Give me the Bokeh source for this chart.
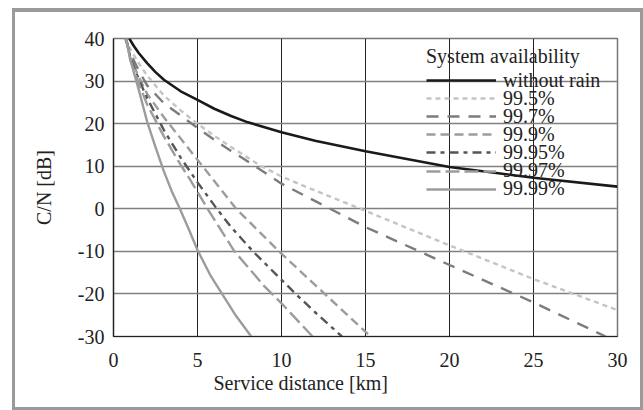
from bokeh.plotting import figure
from bokeh.models import Range1d, FixedTicker, Title, Legend, LegendItem
from bokeh.embed import file_html
from bokeh.resources import INLINE

FONT = "Tinos"      # Times-metric serif (single-word family name)
FS = "20px"

# ---- data ----
x_ticks = [0, 5, 10, 15, 20, 25, 30]
x_tick_labels = ["0", "5", "10", "15", "20", "25", "30"]
y_ticks = [-30, -20, -10, 0, 10, 20, 30, 40]
y_tick_labels = ["-30", "-20", "-10", "0", "10", "20", "30", "40"]

legend_title = "System availability"
series_names = ["without rain", "99.5%", "99.7%", "99.9%", "99.95%", "99.97%", "99.99%"]

d_norain = [0.94, 1.2, 1.5, 2, 2.5, 3, 4, 5, 6, 7, 8, 10, 12, 15, 20, 25, 30]
cn_norain = [40, 38.3, 36.6, 34.2, 32.1, 30.3, 27.6, 25.6, 23.5, 21.8, 20.3, 18.0, 16.0, 13.5, 9.8, 7.3, 5.2]

d_995 = [0.7, 1, 1.5, 2, 3, 4, 5, 6, 7, 8.8, 10, 11, 14.7, 20, 25, 30]
cn_995 = [40, 37.5, 34.2, 31.3, 26.6, 23.1, 20, 17.1, 14.5, 10, 7.6, 5.9, 0, -8.6, -16.5, -23.8]

d_997 = [0.7, 1, 1.5, 2, 3, 4, 5, 6, 7, 8.43, 10, 12.8, 15, 20, 25, 29.3]
cn_997 = [40, 36.5, 32.5, 29, 24.8, 21.9, 19, 16.2, 13.6, 10, 5.9, 0.2, -4.3, -13.2, -22, -30]

d_999 = [0.75, 1, 1.5, 2, 3, 4, 5, 6, 7.3, 9.85, 12.6, 15.3]
cn_999 = [40, 35.5, 31, 27, 21.5, 16.5, 11.5, 6.5, 0, -10, -20.1, -30]

d_9995 = [0.75, 1, 1.5, 2, 3, 4, 5, 6.15, 7, 8.3, 9.9, 10.85, 12, 13.6]
cn_9995 = [40, 35.5, 30.5, 26, 18.5, 12, 6.2, 0, -4.3, -10, -16.3, -20, -24.3, -30]

d_9997 = [0.75, 1, 1.5, 2, 3, 4, 4.55, 5.6, 7.2, 9, 10, 11.85]
cn_9997 = [40, 35, 29.5, 24.5, 17, 10.3, 6.9, 0, -10, -18.3, -22.2, -30]

d_9999 = [0.75, 1, 1.5, 2, 2.5, 3, 3.5, 3.95, 4.5, 5, 5.75, 6.5, 7.3, 8.2]
cn_9999 = [40, 35, 28, 20.5, 14.5, 8.8, 3.8, 0, -5.0, -9.7, -15.5, -20.2, -25.2, -30]

# ---- figure ----
W, H = 643, 410
p = figure(width=W, height=H, output_backend="svg", toolbar_location=None,
           x_range=Range1d(0, 30), y_range=Range1d(-30, 40),
           min_border_left=113, min_border_right=26, min_border_top=38, min_border_bottom=74)
p.border_fill_color = None
p.background_fill_color = "white"
p.outline_line_color = "#777777"
p.outline_line_width = 1.5
p.styles = {
    "background-color": "white",
    "box-shadow": "inset 12px 0 0 0 white, inset 0 8px 0 0 white, "
                  "inset 15px 0 0 0 #9a9a9a, inset 0 12px 0 0 #9a9a9a, "
                  "inset -3px 0 0 0 #9a9a9a, inset 0 -3px 0 0 #9a9a9a",
}

line_styles = [
    dict(color="#1a1a1a", width=2.6, dash="solid"),
    dict(color="#c4c4c4", width=2.4, dash="5 4"),
    dict(color="#7c7c7c", width=2.4, dash="12 9"),
    dict(color="#9c9c9c", width=2.4, dash="9 5"),
    dict(color="#555555", width=2.4, dash="9 5 4 5"),
    dict(color="#9c9c9c", width=2.4, dash="14 5"),
    dict(color="#9c9c9c", width=2.4, dash="solid"),
]
data = [(d_norain, cn_norain), (d_995, cn_995), (d_997, cn_997), (d_999, cn_999),
        (d_9995, cn_9995), (d_9997, cn_9997), (d_9999, cn_9999)]

renderers = []
for (xs, ys), st in zip(data, line_styles):
    r = p.line(xs, ys, line_color=st["color"], line_width=st["width"], line_dash=st["dash"])
    renderers.append(r)

# axes
p.xaxis.ticker = FixedTicker(ticks=x_ticks)
p.yaxis.ticker = FixedTicker(ticks=y_ticks)
p.xaxis.major_label_overrides = {t: s for t, s in zip(x_ticks, x_tick_labels)}
p.yaxis.major_label_overrides = {t: s for t, s in zip(y_ticks, y_tick_labels)}
for ax in (p.xaxis[0], p.yaxis[0]):
    ax.major_tick_line_color = None
    ax.minor_tick_line_color = None
    ax.axis_line_color = "#222222"
    ax.axis_line_width = 1.2
    ax.major_label_text_font = FONT
    ax.major_label_text_font_size = FS
    ax.major_label_text_color = "#222222"
    ax.axis_label_text_font = FONT
    ax.axis_label_text_font_size = FS
    ax.axis_label_text_font_style = "normal"
    ax.axis_label_text_color = "#222222"
p.xaxis.major_label_standoff = 10
p.yaxis.major_label_standoff = 3
p.yaxis.axis_label = "C/N [dB]"
p.yaxis.axis_label_standoff = 20

xt = Title(text="Service distance [km]", align="left", offset=100, text_font=FONT,
           text_font_size=FS, text_font_style="normal", text_color="#222222", standoff=0)
p.add_layout(xt, "below")

# grid
p.xgrid.grid_line_color = "#222222"
p.xgrid.grid_line_width = 1
p.ygrid.grid_line_color = "#808080"
p.ygrid.grid_line_width = 1.6

# legend: one small legend per row so that rows can sit 18px apart
ROW_H = 24
row_gap = 18.1
first_row_center = 42      # px below the frame top
frame_h = H - 38 - 74
leg_x = 313
for i, (name, r) in enumerate(zip(series_names, renderers)):
    center = first_row_center + i * row_gap
    vy = frame_h - center - ROW_H / 2
    lg = Legend(items=[LegendItem(label=name, renderers=[r])], location=(leg_x, vy))
    lg.margin = 0
    lg.padding = 0
    lg.spacing = 0
    lg.border_line_color = None
    lg.background_fill_alpha = 0
    lg.glyph_width = 70
    lg.glyph_height = ROW_H
    lg.label_height = ROW_H
    lg.label_standoff = 7
    lg.label_text_font = FONT
    lg.label_text_font_size = FS
    lg.label_text_color = "#222222"
    if i == 0:
        lg.title = legend_title
        lg.title_text_font = FONT
        lg.title_text_font_size = FS
        lg.title_text_font_style = "normal"
        lg.title_text_color = "#222222"
        lg.title_standoff = 0
    p.add_layout(lg)

open("out.html", "w").write(file_html(p, INLINE))
